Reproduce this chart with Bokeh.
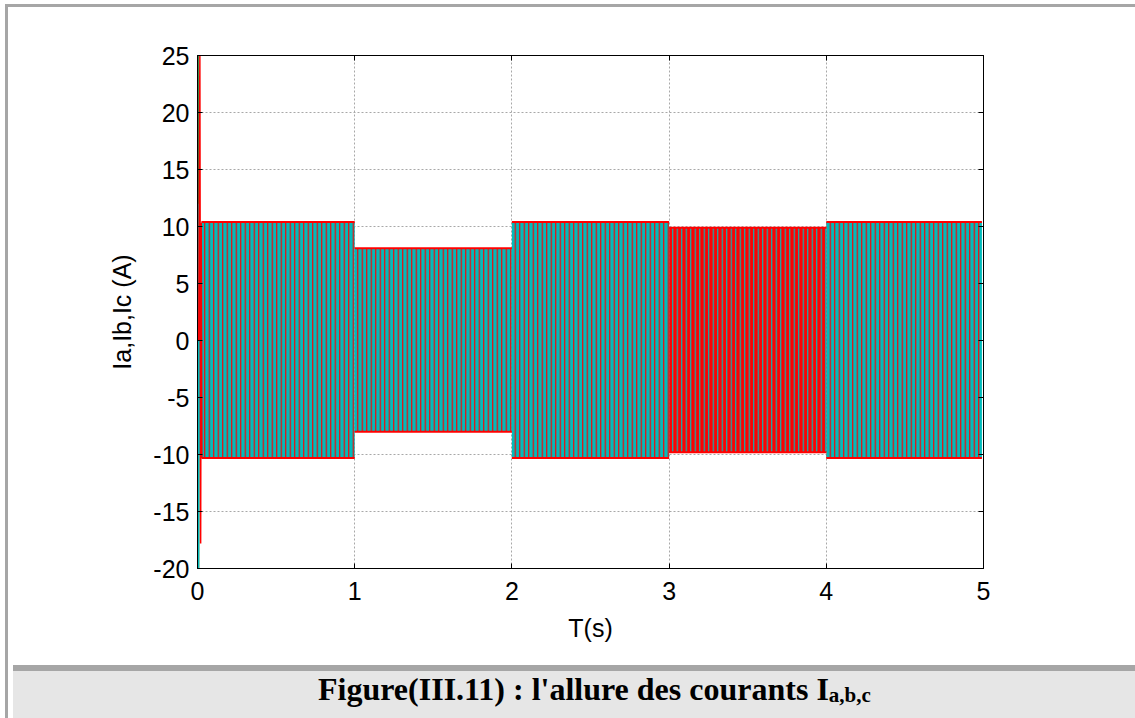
from bokeh.plotting import figure
from bokeh.models import (FixedTicker, LinearAxis, Range1d, Div,
                          CustomJSTickFormatter, ColumnDataSource)
from bokeh.layouts import column
from bokeh.embed import file_html
from bokeh.resources import INLINE

# ---------------- data ----------------
x_ticks = [0, 1, 2, 3, 4, 5]
y_ticks = [-20, -15, -10, -5, 0, 5, 10, 15, 20, 25]

# steady-state envelope of the three phase currents, per load interval
seg_start = [0.025, 1.0, 2.0, 3.0, 4.0]
seg_end = [1.0, 2.0, 3.0, 4.0, 4.99]
seg_upper = [10.4, 8.1, 10.4, 9.9, 10.4]
seg_lower = [-10.3, -8.0, -10.3, -9.8, -10.3]
# dominant colour of each interval (fill) and the other phase colour (stripes)
seg_fill = ["#00bcbc", "#00bcbc", "#00bcbc", "#ff0000", "#00bcbc"]
seg_stripe = ["#ff0000", "#ff0000", "#ff0000", "#00bcbc", "#ff0000"]

# start-up transient (t close to 0)
tr_green_t = [0.0, 0.004, 0.007, 0.010, 0.014]
tr_green_i = [0.0, 25.0, -20.0, 9.0, -9.0]
tr_cyan_t = [0.002, 0.006, 0.010, 0.016]
tr_cyan_i = [0.0, -20.0, 12.0, -10.0]
tr_red_t = [0.008, 0.015, 0.020, 0.024, 0.028]
tr_red_i = [0.0, 25.0, -17.8, 10.3, -10.3]

# ---------------- figure ----------------
p = figure(width=1127, height=653, x_range=Range1d(0, 5), y_range=Range1d(-20, 25),
           output_backend="svg", toolbar_location=None,
           min_border_left=189, min_border_right=152,
           min_border_top=48, min_border_bottom=92)
p.background_fill_color = "white"
p.border_fill_color = "white"
p.outline_line_color = "black"
p.outline_line_width = 1

FONT = "Liberation Sans"

for ax in (p.xaxis[0], p.yaxis[0]):
    ax.major_label_text_font = FONT
    ax.major_label_text_font_size = "25px"
    ax.major_label_text_color = "black"
    ax.axis_label_text_font = FONT
    ax.axis_label_text_font_size = "25px"
    ax.axis_label_text_font_style = "normal"
    ax.axis_label_text_color = "black"
    ax.major_tick_in = 5
    ax.major_tick_out = 0
    ax.minor_tick_line_color = None
    ax.axis_line_color = "black"
    ax.major_tick_line_color = "black"

p.xaxis.ticker = FixedTicker(ticks=x_ticks)
p.yaxis.ticker = FixedTicker(ticks=y_ticks)
p.xaxis.major_label_overrides = {t: str(t) for t in x_ticks}
p.yaxis.major_label_overrides = {t: str(t) for t in y_ticks}
p.xaxis.axis_label = "T(s)"
p.yaxis.axis_label = "Ia,Ib,Ic (A)"
p.xaxis.major_label_standoff = 13
p.yaxis.major_label_standoff = 8
p.xaxis.axis_label_standoff = 11
p.yaxis.axis_label_standoff = 14

# box axes (ticks only)
blank = CustomJSTickFormatter(code="return ''")
top_ax = LinearAxis(ticker=FixedTicker(ticks=x_ticks), formatter=blank,
                    major_tick_in=5, major_tick_out=0, minor_tick_line_color=None,
                    axis_line_color="black", major_tick_line_color="black")
right_ax = LinearAxis(ticker=FixedTicker(ticks=y_ticks), formatter=blank,
                      major_tick_in=5, major_tick_out=0, minor_tick_line_color=None,
                      axis_line_color="black", major_tick_line_color="black")
p.add_layout(top_ax, "above")
p.add_layout(right_ax, "right")

p.xgrid.ticker = FixedTicker(ticks=x_ticks)
p.ygrid.ticker = FixedTicker(ticks=y_ticks)
for g in (p.xgrid[0], p.ygrid[0]):
    g.grid_line_color = "#a8a8a8"
    g.grid_line_dash = "2 2"
    g.grid_line_width = 1

# ---------------- waveform band ----------------
src = ColumnDataSource(dict(left=seg_start, right=seg_end, top=seg_upper,
                            bottom=seg_lower, fill=seg_fill, stripe=seg_stripe))
p.quad(left="left", right="right", top="top", bottom="bottom", source=src,
       fill_color="fill", line_color=None,
       hatch_pattern="vertical_line", hatch_color="stripe",
       hatch_scale=4.5, hatch_weight=1.2, hatch_alpha=1.0)

# red envelope edges
p.segment(x0=seg_start, x1=seg_end, y0=seg_upper, y1=seg_upper,
          line_color="#ff0000", line_width=2)
p.segment(x0=seg_start, x1=seg_end, y0=seg_lower, y1=seg_lower,
          line_color="#ff0000", line_width=2)

# transient
p.line(tr_green_t, tr_green_i, line_color="#2e7d32", line_width=1.5)
p.line(tr_cyan_t, tr_cyan_i, line_color="#00bcbc", line_width=1.5)
p.line(tr_red_t, tr_red_i, line_color="#ff0000", line_width=1.5)

# ---------------- caption ----------------
caption = Div(
    text=("<b>Figure(III.11) : l'allure des courants I"
          "<span style=\"font-size:21px; position:relative; top:2px\">a,b,c</span></b>"),
    width=1127, height=56,
    styles={"background-color": "#e6e6e6",
            "border-top": "6px solid #a6a6a6",
            "font-family": "'Liberation Serif', 'Times New Roman', serif",
            "font-size": "32px",
            "color": "black",
            "padding-left": "305px",
            "padding-top": "0px",
            "line-height": "36px",
            "box-sizing": "border-box"})

layout = column(p, caption,
                styles={"border-left": "3px solid #a6a6a6",
                        "border-top": "3px solid #a6a6a6",
                        "margin-left": "5px",
                        "margin-top": "4px"})

open("out.html", "w").write(file_html(layout, INLINE))
